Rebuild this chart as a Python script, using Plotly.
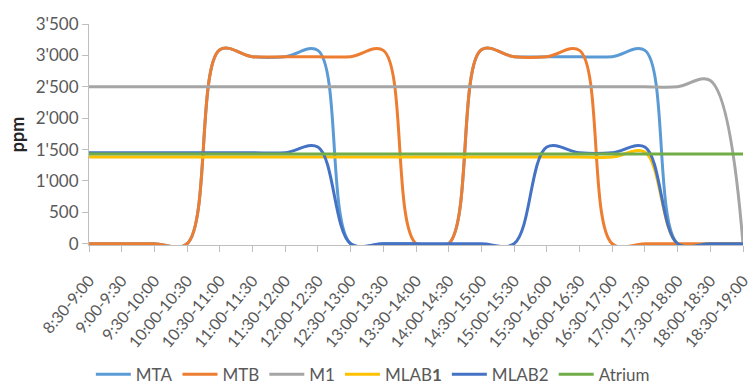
import plotly.graph_objects as go

# Half-hour measurement slots
slots = ["8:30-9:00", "9:00-9:30", "9:30-10:00", "10:00-10:30", "10:30-11:00",
         "11:00-11:30", "11:30-12:00", "12:00-12:30", "12:30-13:00", "13:00-13:30",
         "13:30-14:00", "14:00-14:30", "14:30-15:00", "15:00-15:30", "15:30-16:00",
         "16:00-16:30", "16:30-17:00", "17:00-17:30", "17:30-18:00", "18:00-18:30",
         "18:30-19:00"]

# CO2 concentration per room (ppm)
mta = [0, 0, 0, 0, 3090, 2980, 2980, 3080, 0, 0, 0, 0, 3090, 2980, 2980, 2980,
       2980, 3080, 0, 0, 0]
mtb = [0, 0, 0, 0, 3090, 2980, 2980, 2980, 2980, 3080, 0, 0, 3090, 2980, 2980,
       3080, 0, 0, 0, 0, 0]
m1 = [2500, 2500, 2500, 2500, 2500, 2500, 2500, 2500, 2500, 2500, 2500, 2500,
      2500, 2500, 2500, 2500, 2500, 2500, 2500, 2600, 0]
mlab1 = [1380, 1380, 1380, 1380, 1380, 1380, 1380, 1380, 1380, 1380, 1380, 1380,
         1380, 1380, 1380, 1380, 1380, 1460, 0, 0, 0]
mlab2 = [1450, 1450, 1450, 1450, 1450, 1450, 1450, 1540, 0, 0, 0, 0, 0, 0, 1540,
         1450, 1450, 1540, 0, 0, 0]
atrium = [1430, 1430, 1430, 1430, 1430, 1430, 1430, 1430, 1430, 1430, 1430, 1430,
          1430, 1430, 1430, 1430, 1430, 1430, 1430, 1430, 1430]

y_ticks = [0, 500, 1000, 1500, 2000, 2500, 3000, 3500]

series = [
    ("MTA", mta, "#5B9BD5"),
    ("MTB", mtb, "#ED7D31"),
    ("M1", m1, "#A5A5A5"),
    ("MLAB<b>1</b>", mlab1, "#FFC000"),
    ("MLAB2", mlab2, "#4472C4"),
    ("Atrium", atrium, "#70AD47"),
]

fig = go.Figure()
for name, values, color in series:
    fig.add_trace(go.Scatter(
        x=slots, y=values, name=name, mode="lines",
        line=dict(color=color, width=3, shape="spline", smoothing=1),
    ))

axis_grey = "#BFBFBF"
fig.update_layout(
    width=750, height=385,
    margin=dict(l=89, r=7, t=24, b=140, autoexpand=False),
    plot_bgcolor="white", paper_bgcolor="white",
    separators=".'",
    font=dict(family="Lato, Carlito, Calibri, sans-serif", color="#595959"),
    legend=dict(orientation="h", x=0.434, xanchor="center", y=-0.505, yanchor="top",
                font=dict(size=17, color="#595959"), itemwidth=35),
    xaxis=dict(type="category", range=[0, 20], showline=True, linecolor=axis_grey,
               linewidth=1, ticks="outside", ticklen=6, tickcolor=axis_grey,
               tickangle=-50, tickfont=dict(size=16), ticklabelstandoff=13,
               showgrid=False, zeroline=False),
    yaxis=dict(range=[-20, 3500], tickvals=y_ticks, tickformat=",", showline=True,
               linecolor=axis_grey, linewidth=1, ticks="outside", ticklen=6,
               tickcolor=axis_grey, tickfont=dict(size=17), showgrid=False,
               zeroline=False,
               title=dict(text="<b>ppm</b>", font=dict(size=18, color="#262626"),
                          standoff=6)),
)

fig.write_html("out.html")
